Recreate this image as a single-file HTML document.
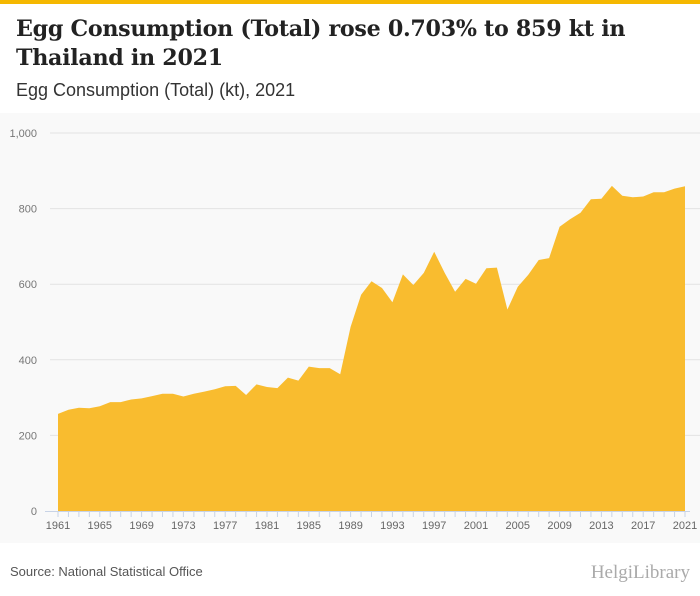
<!DOCTYPE html>
<html><head><meta charset="utf-8"><style>
body{margin:0;width:700px;height:596px;background:#fff;font-family:"Liberation Sans",sans-serif;overflow:hidden;position:relative}
#bar{position:absolute;left:0;top:0;width:700px;height:4px;background:#f5b800}
#title{position:absolute;left:16px;top:15px;font-family:"DejaVu Serif",serif;font-weight:bold;font-size:22.2px;line-height:29px;color:#222;width:640px;letter-spacing:-0.3px}
#sub{position:absolute;left:16px;top:80px;font-size:18px;color:#333}
#chartbg{position:absolute;left:0;top:113px;width:700px;height:430px;background:#f9f9f9}
#src{position:absolute;left:10px;top:564px;font-size:13px;color:#555}
#logo{position:absolute;right:10px;top:562px;font-family:"Liberation Serif",serif;font-size:19px;color:#aaa}
svg{position:absolute;left:0;top:0}
</style></head><body>
<div id="bar"></div>
<div id="title">Egg Consumption (Total) rose 0.703% to 859 kt in Thailand in 2021</div>
<div id="sub">Egg Consumption (Total) (kt), 2021</div>
<div id="chartbg"></div>
<svg id="chart" width="700" height="596"></svg>
<div id="src">Source: National Statistical Office</div>
<div id="logo">HelgiLibrary</div>
<script>
const years=[1961,1962,1963,1964,1965,1966,1967,1968,1969,1970,1971,1972,1973,1974,1975,1976,1977,1978,1979,1980,1981,1982,1983,1984,1985,1986,1987,1988,1989,1990,1991,1992,1993,1994,1995,1996,1997,1998,1999,2000,2001,2002,2003,2004,2005,2006,2007,2008,2009,2010,2011,2012,2013,2014,2015,2016,2017,2018,2019,2020,2021];
const values=[257,268,273,272,277,288,288,295,298,304,310,310,303,310,316,322,330,331,307,335,328,325,353,345,382,378,378,362,487,572,608,590,552,626,598,630,686,630,580,614,601,642,644,533,593,625,664,669,752,772,789,825,826,860,834,830,832,843,843,853,859];
const yTicks=[0,200,400,600,800,1000];
const yTickLabels=["0","200","400","600","800","1,000"];
const xTickYears=[1961,1965,1969,1973,1977,1981,1985,1989,1993,1997,2001,2005,2009,2013,2017,2021];
const svg=document.getElementById('chart');const NS='http://www.w3.org/2000/svg';
const x0=58,x1=685,yB=511,yT=133;
const X=y=>x0+(y-years[0])/(years[years.length-1]-years[0])*(x1-x0);
const Y=v=>yB-v/1000*(yB-yT);
function mk(t,a){const e=document.createElementNS(NS,t);for(const k in a)e.setAttribute(k,a[k]);svg.appendChild(e);return e;}
yTicks.forEach((t,i)=>{
 if(t>0){const g=mk('line',{x1:50,x2:700,y1:Y(t),y2:Y(t),stroke:'#e3e3e3','stroke-width':1});
 
 }
 const l=mk('text',{x:37,y:Y(t)+4,'text-anchor':'end','font-size':11,fill:'#777','font-family':'Liberation Sans'});
 l.textContent=yTickLabels[i];
 
 
});
let d='M'+X(years[0])+','+yB;
years.forEach((yr,i)=>{d+=' L'+X(yr).toFixed(1)+','+Y(values[i]).toFixed(1);});
d+=' L'+X(years[years.length-1])+','+yB+' Z';
const a=mk('path',{d:d,fill:'#f9bc2f'});


const ax=mk('line',{x1:45,x2:690,y1:yB+0.5,y2:yB+0.5,stroke:'#c8d3e6','stroke-width':1});


years.forEach(yr=>{const t=mk('line',{x1:X(yr),x2:X(yr),y1:yB,y2:yB+6,stroke:'#c8d3e6'});
 
 });
xTickYears.forEach(yr=>{const l=mk('text',{x:X(yr),y:529,'text-anchor':'middle','font-size':11,fill:'#666','font-family':'Liberation Sans'});
 l.textContent=yr;
 
 });
</script>
</body></html>
